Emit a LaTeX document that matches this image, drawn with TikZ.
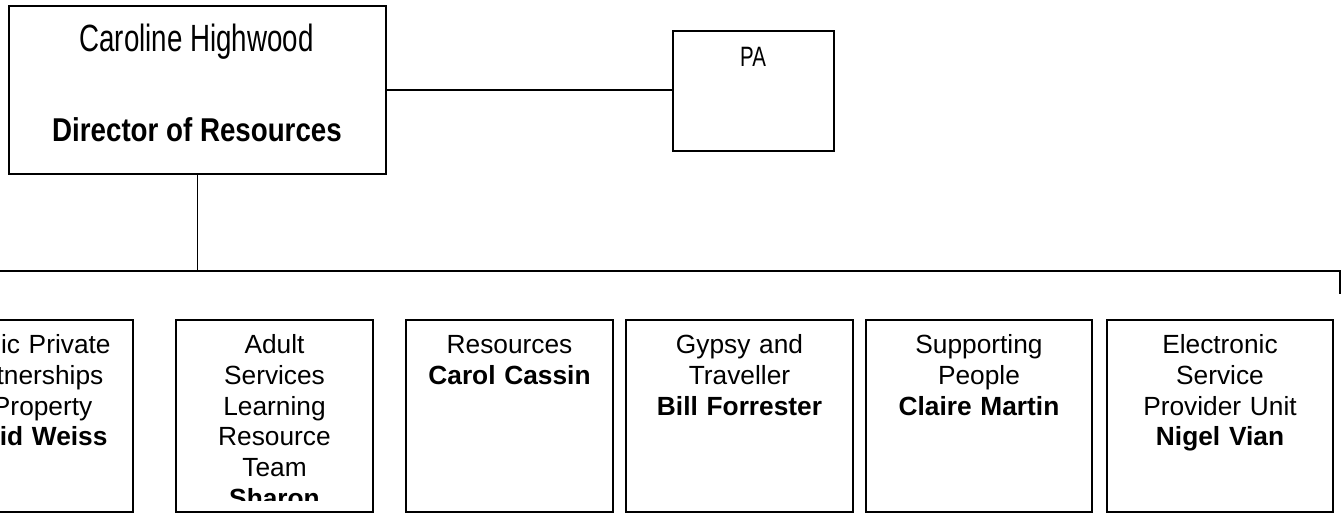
\documentclass[tikz,border=0pt]{standalone}
\usepackage{fontspec}
\setmainfont{Liberation Sans}
\newfontfamily\namefont{Liberation Sans}[FakeStretch=0.73]
\newfontfamily\rolefont{Liberation Sans Bold}[FakeStretch=0.84]
\usetikzlibrary{positioning}
\tikzset{
  headbox/.style={draw,line width=0.5pt,inner sep=0pt},
  unitbox/.style={draw,line width=0.5pt,inner sep=0pt,
                  minimum height=19.2mm,anchor=north},
  unittext/.style={anchor=base,text width=18mm,align=center,inner sep=0pt,
                   font=\fontsize{7.48}{8.71}\selectfont},
  link/.style={line width=0.5pt},
}

\begin{document}
\begin{tikzpicture}[x=0.1mm,y=-0.1mm]
  \useasboundingbox (0,0) rectangle (1344,514);
  \clip (0,0) rectangle (1344,514);
  % director and PA
  \node[headbox,minimum width=37.7mm,minimum height=16.8mm] (dir) at (197.5,90) {};
  \node[anchor=base,inner sep=0pt,font=\namefont\fontsize{10.8}{13}\selectfont]
     (dirname) at (196.5,51.5) {Caroline Highwood};
  \node[anchor=base,inner sep=0pt,font=\rolefont\fontsize{9.39}{11}\selectfont]
     (dirrole) at (197,141.5) {Director of Resources};
  \node[headbox,minimum width=16.1mm,minimum height=12mm] (pa) at (753.5,91) {};
  \node[anchor=base,inner sep=0pt,font=\namefont\fontsize{7.97}{9.5}\selectfont]
     (patext) at (753,66.7) {PA};
  % bus line
  \coordinate (busL) at (-10,271);
  \coordinate (busR) at (1340,271);
  \coordinate (tick) at (1340,294);
  \draw[link] (dir.east) -- (dir.east -| pa.west);
  \draw[link] (dir.south) -- (dir.south |- busR);
  \draw[link] (busL) -- (busR) -- (tick);
  % units
  \node[unitbox,minimum width=20.7mm] (u1) at (29.5,319) {};
  \node[unitbox,minimum width=19.7mm] (u2) at (274.5,319) {};
  \node[unitbox,minimum width=20.7mm] (u3) at (509.5,319) {};
  \node[unitbox,minimum width=22.7mm] (u4) at (739.5,319) {};
  \node[unitbox,minimum width=22.6mm] (u5) at (979,319) {};
  \node[unitbox,minimum width=22.6mm] (u6) at (1220,319) {};
  \node[unittext] (t1) at (29.5,354) {Public Private\\Partnerships\\\& Property\\\textbf{David Weiss}};
  \begin{scope}
    \clip (176,319) rectangle (373,500);
    \node[unittext] (t2) at (274.5,354) {Adult\\Services\\Learning\\Resource\\Team\\\textbf{Sharon}};
  \end{scope}
  \node[unittext] (t3) at (509.5,354) {Resources\\\textbf{Carol Cassin}};
  \node[unittext] (t4) at (739.5,354) {Gypsy and\\Traveller\\\textbf{Bill Forrester}};
  \node[unittext] (t5) at (979,354) {Supporting\\People\\\textbf{Claire Martin}};
  \node[unittext] (t6) at (1220,354) {Electronic\\Service\\Provider Unit\\\textbf{Nigel Vian}};
\end{tikzpicture}
\end{document}
